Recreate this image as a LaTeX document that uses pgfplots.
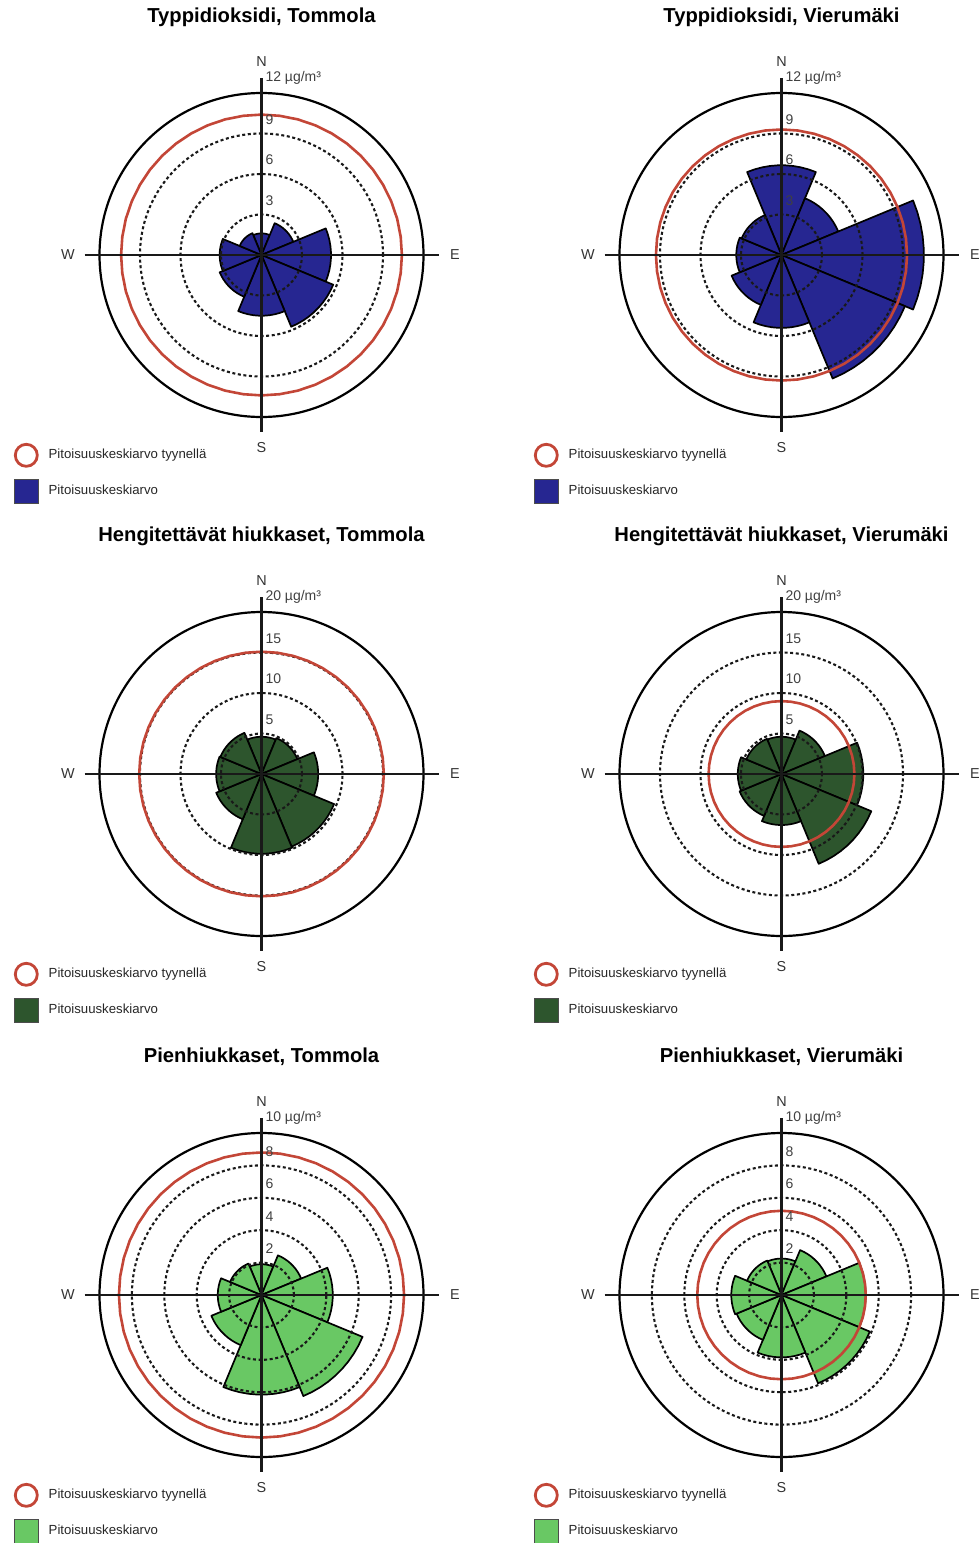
\documentclass[border=0pt]{standalone}
\usepackage{pgfplots}
\pgfplotsset{compat=1.18}
\usepackage{pgfplotstable}
\usepackage{fontspec}
\setmainfont{Liberation Sans}

\definecolor{noblue}{RGB}{38,38,145}
\definecolor{pmdark}{RGB}{45,85,45}
\definecolor{pmlight}{RGB}{105,200,100}
\definecolor{calmred}{RGB}{195,70,55}

% outline of one 45-degree sector: centre, arc, back to centre
\pgfplotstableread{
t s
0 0
-22.5 1
-17.5 1
-12.5 1
-7.5 1
-2.5 1
2.5 1
7.5 1
12.5 1
17.5 1
22.5 1
0 0
}\wedgepts

% full turn for the calm-weather ring
\pgfplotstableread{
t s
0 1
7.5 1
15 1
22.5 1
30 1
37.5 1
45 1
52.5 1
60 1
67.5 1
75 1
82.5 1
90 1
97.5 1
105 1
112.5 1
120 1
127.5 1
135 1
142.5 1
150 1
157.5 1
165 1
172.5 1
180 1
187.5 1
195 1
202.5 1
210 1
217.5 1
225 1
232.5 1
240 1
247.5 1
255 1
262.5 1
270 1
277.5 1
285 1
292.5 1
300 1
307.5 1
315 1
322.5 1
330 1
337.5 1
345 1
352.5 1
360 1
}\ringpts

% mean concentration by wind direction, ug/m3
\pgfplotstableread{
dir angle value
N   0   1.6
NE  45  2.55
E   90  5.15
SE  135 5.75
S   180 4.5
SW  225 3.35
W   270 3.1
NW  315 1.75
}\noTommola

\pgfplotstableread{
dir angle value
N   0   6.65
NE  45  4.55
E   90  10.55
SE  135 9.9
S   180 5.4
SW  225 4.0
W   270 3.35
NW  315 3.2
}\noVierumaki

\pgfplotstableread{
dir angle value
N   0   4.6
NE  45  4.8
E   90  7.0
SE  135 9.7
S   180 9.85
SW  225 6.05
W   270 5.6
NW  315 5.5
}\pmTommola

\pgfplotstableread{
dir angle value
N   0   4.6
NE  45  5.8
E   90  10.1
SE  135 12.0
S   180 6.3
SW  225 5.6
W   270 5.4
NW  315 4.7
}\pmVierumaki

\pgfplotstableread{
dir angle value
N   0   1.9
NE  45  2.65
E   90  4.4
SE  135 6.75
S   180 6.15
SW  225 3.35
W   270 2.7
NW  315 2.1
}\fineTommola

\pgfplotstableread{
dir angle value
N   0   2.25
NE  45  3.0
E   90  5.2
SE  135 5.9
S   180 3.85
SW  225 3.0
W   270 3.1
NW  315 2.3
}\fineVierumaki

% mean concentration in calm weather, ug/m3
\pgfplotstableread{
site      no2  pm10 pm25
Tommola   10.4 15.1 8.8
Vierumaki 9.3  9.0  5.2
}\calmmeans

\pgfplotsset{
  rose/.style={
    hide axis, clip=false, anchor=center,
    legend cell align=left,
    legend style={draw=none, fill=none, at={(-0.0103,0.1142)}, anchor=north west,
      inner sep=0pt, row sep=5.5pt, column sep=4.5pt,
      font=\fontsize{6.6}{8}\selectfont, text=black!85,
      nodes={inner sep=0.5pt}},
  },
  calmimg/.style={legend image code/.code={%
    \draw[calmred,line width=1.4pt] (6.25pt,0pt) circle[radius=5.5pt];}},
  sectorimg/.style={legend image code/.code={%
    \filldraw[fill=#1,draw=black!70,line width=0.4pt] (0.25pt,-6pt) rectangle (12.25pt,6pt);}},
}

\tikzset{
  gridring/.style={black!90, line width=1.05pt, dash pattern=on 1.5pt off 1.3pt},
  crossline/.style={black!90, line width=1.1pt},
  ticklab/.style={anchor=west, inner sep=0pt, xshift=1.8pt, text=black!75,
    font=\fontsize{7}{8}\selectfont},
  dirlab/.style={inner sep=0pt, text=black!80, font=\fontsize{7.2}{8}\selectfont},
  titlelab/.style={inner sep=0pt, font=\bfseries\fontsize{10.1}{12}\selectfont},
}

% the eight wind-direction sectors of one station
\newcommand\sectors[2]{%
  \pgfplotsinvokeforeach{0,...,7}{%
    \pgfplotstablegetelem{##1}{angle}\of{#1}\edef\secang{\pgfplotsretval}%
    \pgfplotstablegetelem{##1}{value}\of{#1}\edef\secval{\pgfplotsretval}%
    \addplot[draw=black, line width=0.85pt, line join=round, fill=#2, forget plot]
      table[x expr={\thisrow{s}*\secval*sin(\secang+\thisrow{t})},
            y expr={\thisrow{s}*\secval*cos(\secang+\thisrow{t})}] {\wedgepts};
  }%
}

% calm-weather mean as a ring
\newcommand\calmring[2]{%
  \pgfplotstablegetelem{#1}{#2}\of{\calmmeans}\edef\calmval{\pgfplotsretval}%
  \addplot[calmred, line width=1.3pt, forget plot]
    table[x expr={\thisrow{s}*\calmval*sin(\thisrow{t})},
          y expr={\thisrow{s}*\calmval*cos(\thisrow{t})}] {\ringpts};
}

\newcommand\dashedrings[1]{%
  \pgfplotsinvokeforeach{#1}{\draw[gridring] (axis cs:0,0) circle[radius=##1];}%
}

% outer ring, compass cross, scale and title
\newcommand\roseframe[3]{%
  \draw[black, line width=1.1pt] (axis cs:0,0) circle[radius=#1];
  \draw[crossline] ([yshift=7.5pt]axis cs:0,#1) -- ([yshift=-7.5pt]axis cs:0,-#1);
  \draw[crossline] ([xshift=-7.5pt]axis cs:-#1,0) -- ([xshift=7.5pt]axis cs:#1,0);
  \pgfplotsinvokeforeach{#2}{\node[ticklab] at ([yshift=7pt]axis cs:0,##1) {##1};}%
  \node[ticklab] at ([yshift=7.5pt]axis cs:0,#1) {#1 µg/m³};
  \node[dirlab] at ([yshift=15.5pt]axis cs:0,#1) {N};
  \node[dirlab] at ([yshift=-15.5pt]axis cs:0,-#1) {S};
  \node[dirlab] at ([xshift=15.75pt]axis cs:#1,0) {E};
  \node[dirlab] at ([xshift=-15.75pt]axis cs:-#1,0) {W};
  \node[titlelab] at ([yshift=38pt]axis cs:0,#1) {#3};
}

\newcommand\roselegend[1]{%
  \addlegendimage{calmimg}
  \addlegendentry{Pitoisuuskeskiarvo tyynellä}
  \addlegendimage{sectorimg=#1}
  \addlegendentry{Pitoisuuskeskiarvo}
}

\begin{document}
\begin{tikzpicture}
\useasboundingbox (0,0) rectangle (490pt,-771.5pt);

% nitrogen dioxide
\begin{axis}[rose, at={(130.75pt,-127.5pt)}, x=6.75pt, y=6.75pt,
  xmin=-18, xmax=18, ymin=-18, ymax=18]
  \roselegend{noblue}
  \sectors{\noTommola}{noblue}
  \dashedrings{3,6,9}
  \calmring{0}{no2}
  \roseframe{12}{3,6,9}{Typpidioksidi, Tommola}
\end{axis}

\begin{axis}[rose, at={(390.75pt,-127.5pt)}, x=6.75pt, y=6.75pt,
  xmin=-18, xmax=18, ymin=-18, ymax=18]
  \roselegend{noblue}
  \sectors{\noVierumaki}{noblue}
  \dashedrings{3,6,9}
  \calmring{1}{no2}
  \roseframe{12}{3,6,9}{Typpidioksidi, Vierumäki}
\end{axis}

% inhalable particles
\begin{axis}[rose, at={(130.75pt,-387pt)}, x=4.05pt, y=4.05pt,
  xmin=-30, xmax=30, ymin=-30, ymax=30]
  \roselegend{pmdark}
  \sectors{\pmTommola}{pmdark}
  \dashedrings{5,10,15}
  \calmring{0}{pm10}
  \roseframe{20}{5,10,15}{Hengitettävät hiukkaset, Tommola}
\end{axis}

\begin{axis}[rose, at={(390.75pt,-387pt)}, x=4.05pt, y=4.05pt,
  xmin=-30, xmax=30, ymin=-30, ymax=30]
  \roselegend{pmdark}
  \sectors{\pmVierumaki}{pmdark}
  \dashedrings{5,10,15}
  \calmring{1}{pm10}
  \roseframe{20}{5,10,15}{Hengitettävät hiukkaset, Vierumäki}
\end{axis}

% fine particles
\begin{axis}[rose, at={(130.75pt,-647.5pt)}, x=8.1pt, y=8.1pt,
  xmin=-15, xmax=15, ymin=-15, ymax=15]
  \roselegend{pmlight}
  \sectors{\fineTommola}{pmlight}
  \dashedrings{2,4,6,8}
  \calmring{0}{pm25}
  \roseframe{10}{2,4,6,8}{Pienhiukkaset, Tommola}
\end{axis}

\begin{axis}[rose, at={(390.75pt,-647.5pt)}, x=8.1pt, y=8.1pt,
  xmin=-15, xmax=15, ymin=-15, ymax=15]
  \roselegend{pmlight}
  \sectors{\fineVierumaki}{pmlight}
  \dashedrings{2,4,6,8}
  \calmring{1}{pm25}
  \roseframe{10}{2,4,6,8}{Pienhiukkaset, Vierumäki}
\end{axis}
\end{tikzpicture}
\end{document}
